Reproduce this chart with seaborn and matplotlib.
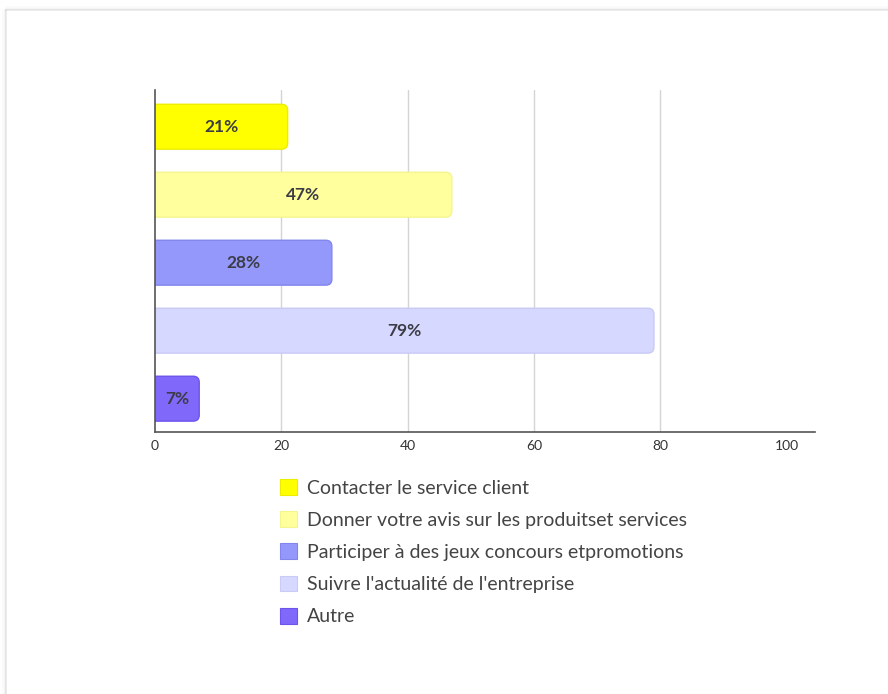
import matplotlib
matplotlib.use("Agg")
import matplotlib.pyplot as plt
import seaborn as sns
import pandas as pd
from matplotlib.patches import FancyBboxPatch, Patch
from matplotlib.lines import Line2D

categories = [
    "Contacter le service client",
    "Donner votre avis sur les produitset services",
    "Participer à des jeux concours etpromotions",
    "Suivre l'actualité de l'entreprise",
    "Autre",
]
values = [21, 47, 28, 79, 7]
labels = ["21%", "47%", "28%", "79%", "7%"]
colors = ["#FFFF00", "#FFFF9E", "#9498FA", "#D7D8FF", "#8068FB"]
edges = ["#EDED00", "#F5F590", "#8286EC", "#C9CAF5", "#6C54EC"]
xticks = [0, 20, 40, 60, 80, 100]

sns.set_theme(style="white")
plt.rcParams["font.family"] = ["Lato", "DejaVu Sans"]

df = pd.DataFrame({"cat": categories, "val": values})

fig = plt.figure(figsize=(8.88, 6.94), dpi=100)
ax = fig.add_axes([155 / 888, 1 - 432 / 694, (815 - 155) / 888, (432 - 90) / 694])

sns.barplot(data=df, x="val", y="cat", hue="cat", palette=colors,
            saturation=1, orient="h", width=0.66, legend=False, ax=ax, zorder=2)

ax.set_xlim(0, 104.5)
ax.set_ylim(4.49, -0.54)

# rounded bars in place of the plain rectangles
x_px = (815 - 155) / 104.5
y_px = (432 - 90) / (4.49 + 0.54)
r_x = 6 / x_px
aspect = (1 / y_px) / (1 / x_px)
for patch, ec in zip(list(ax.patches), edges):
    x0, y0 = patch.get_x(), patch.get_y()
    w, h = patch.get_width(), patch.get_height()
    fc = patch.get_facecolor()
    patch.remove()
    fb = FancyBboxPatch((x0 - 2, y0), w + 2, h,
                        boxstyle=f"round,pad=0,rounding_size={r_x}",
                        mutation_aspect=aspect, facecolor=fc, edgecolor=ec,
                        linewidth=1.0, zorder=2)
    ax.add_patch(fb)

for i, (v, lab) in enumerate(zip(values, labels)):
    ax.text(v / 2, i, lab, ha="center", va="center", fontsize=12.5,
            color="#3c3c46", fontweight="bold", zorder=3)

ax.set_xticks(xticks)
ax.set_xticklabels([str(t) for t in xticks], fontsize=10, color="#333333")
ax.set_yticks([])
ax.set_xlabel("")
ax.set_ylabel("")
for t in [20, 40, 60, 80]:
    ax.axvline(t, color="#d4d4d4", linewidth=1.0, zorder=1)
for s in ["top", "right"]:
    ax.spines[s].set_visible(False)
ax.spines["left"].set_color("#555555")
ax.spines["bottom"].set_color("#555555")
ax.spines["left"].set_linewidth(1.2)
ax.spines["bottom"].set_linewidth(1.2)
ax.tick_params(axis="x", length=3, color="#555555", pad=3)

handles = [Patch(facecolor=c, edgecolor=e, linewidth=0.8) for c, e in zip(colors, edges)]
fs = 14
fig.legend(handles, categories, loc="upper left",
           bbox_to_anchor=(280 / 888, 1 - 479 / 694), frameon=False,
           fontsize=fs, handlelength=0.87, handleheight=0.87,
           handletextpad=0.5, labelspacing=0.75, borderpad=0,
           borderaxespad=0, labelcolor="#444444")

# card border with soft shadow
for off, a in [(0, 0.35), (1.5, 0.18), (3, 0.08)]:
    fig.add_artist(Line2D([6 / 888, 1], [1 - (10 - off) / 694] * 2,
                          color="#bdbdbd", alpha=a, linewidth=1.2))
    fig.add_artist(Line2D([(6 - off) / 888] * 2, [0, 1 - 10 / 694],
                          color="#bdbdbd", alpha=a, linewidth=1.2))

fig.savefig("out.png", dpi=100)
